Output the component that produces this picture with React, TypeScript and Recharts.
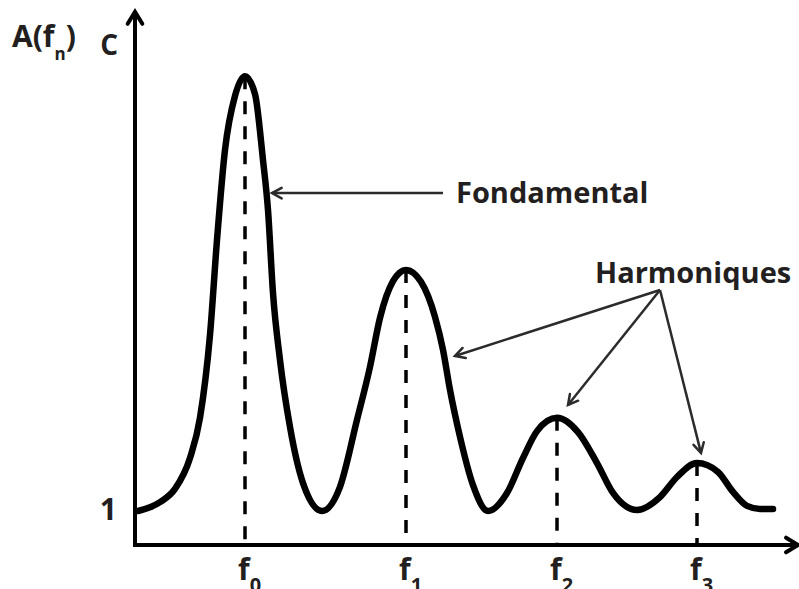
import React from 'react';
import { ComposedChart, Line, XAxis, YAxis, ReferenceLine, ReferenceDot } from 'recharts';

// Curve samples (frequency, amplitude)
const freq = [0.3, 2.5, 4.0, 5.5, 6.5, 7.5, 8.2, 9.0, 10.0, 11.0, 12.0, 12.8, 13.3, 13.8, 14.5, 15.5, 16.8, 18.7, 20.5, 22.2, 23.5, 24.5, 25.8, 27.1, 28.6, 30.0, 30.8, 31.5, 32.5, 33.8, 35.3, 37.2, 38.8, 40.2, 42.2, 44.3, 46.2, 47.8, 50.2, 52.5, 54.2, 56.2, 58.3, 59.8, 61.2, 62.5, 63.8];
const amp = [1.0, 1.26, 1.65, 2.56, 3.74, 6.18, 8.97, 11.62, 13.21, 13.79, 13.26, 11.32, 9.85, 7.41, 5.44, 3.47, 1.82, 1.0, 1.71, 3.68, 5.24, 6.68, 7.76, 8.09, 7.74, 6.71, 5.74, 4.56, 3.18, 1.76, 1.0, 1.53, 2.56, 3.35, 3.74, 3.32, 2.41, 1.53, 1.03, 1.41, 2.0, 2.41, 2.15, 1.56, 1.15, 1.06, 1.06];

// Peaks (fundamental + harmonics)
const peakFreqs = [11.0, 27.1, 42.2, 56.2];
const peakAmps = [13.79, 8.09, 3.74, 2.41];
const xTickSubs = ['0', '1', '2', '3'];

// Y ticks
const yTicks = [1, 14.68];
const yTickLabels = ['1', 'C'];

// Axis extents
const xMax = 66.3;
const yMax = 15.5;
const yArrowTop = 15.68;

// Annotations
const fondLabel = 'Fondamental';
const fondLabelPos = { x: 32.1, y: 10.06 };
const fondArrow = { from: { x: 30.8, y: 10.35 }, to: { x: 13.7, y: 10.35 } };

const harmLabel = 'Harmoniques';
const harmLabelPos = { x: 46.0, y: 7.71 };
const harmOrigin = { x: 52.5, y: 7.5 };
const harmTargets = [
  { x: 32.0, y: 5.56 },
  { x: 43.3, y: 4.12 },
  { x: 56.6, y: 2.71 },
];

const data = freq.map((f, i) => ({ f, a: amp[i] }));

const FONT = '"Open Sans", "DejaVu Sans", sans-serif';
const TEXT = '#231f20';

const arrowShape = (head: number, sw: number, color: string, spread = 0.5) => (props: any) => {
  const { x1, y1, x2, y2 } = props;
  if ([x1, y1, x2, y2].some((v) => v == null || isNaN(v))) return <g />;
  const ang = Math.atan2(y2 - y1, x2 - x1);
  const wa = ang + Math.PI - spread;
  const wb = ang + Math.PI + spread;
  const p1 = `${x2 + head * Math.cos(wa)},${y2 + head * Math.sin(wa)}`;
  const p2 = `${x2 + head * Math.cos(wb)},${y2 + head * Math.sin(wb)}`;
  return (
    <g>
      <line x1={x1} y1={y1} x2={x2} y2={y2} stroke={color} strokeWidth={sw} />
      <polyline
        points={`${p1} ${x2},${y2} ${p2}`}
        fill="none"
        stroke={color}
        strokeWidth={sw}
        strokeLinecap="round"
        strokeLinejoin="miter"
      />
    </g>
  );
};

const XTick = (props: any) => {
  const { x, y, payload } = props;
  const idx = peakFreqs.indexOf(payload.value);
  return (
    <text x={x - 7} y={y + 35} fontFamily={FONT} fontSize={30} fontWeight={700} fill={TEXT}>
      f
      <tspan fontSize={20} dy={12}>
        {xTickSubs[idx]}
      </tspan>
    </text>
  );
};

const YTick = (props: any) => {
  const { x, y, payload } = props;
  const idx = yTicks.indexOf(payload.value);
  const label = yTickLabels[idx];
  if (idx === 0) {
    return (
      <text x={x - 18} y={y + 9} textAnchor="end" fontFamily={FONT} fontSize={30} fontWeight={700} fill={TEXT}>
        {label}
      </text>
    );
  }
  return (
    <g>
      <text x={x - 17} y={y + 9} textAnchor="end" fontFamily={FONT} fontSize={28} fontWeight={700} fill={TEXT}>
        {label}
      </text>
      <text x={12} y={y + 1} fontFamily={FONT} fontSize={30} fontWeight={700} fill={TEXT}>
        A(f
        <tspan fontSize={17} dy={13}>
          n
        </tspan>
        <tspan dy={-13}>)</tspan>
      </text>
    </g>
  );
};

const textShape = (label: string) => (props: any) => {
  const { cx, cy } = props;
  return (
    <text x={cx} y={cy} fontFamily={FONT} fontSize={29} fontWeight={700} fill={TEXT}>
      {label}
    </text>
  );
};

export default function App() {
  return (
    <div style={{ position: 'absolute', left: 0, top: 0, width: 799, height: 589, background: '#fff' }}>
      <ComposedChart width={799} height={589} data={data} margin={{ top: 18, right: 1, bottom: 0, left: 0 }}>
        <XAxis
          type="number"
          dataKey="f"
          domain={[0, xMax]}
          allowDataOverflow
          ticks={peakFreqs}
          tick={<XTick />}
          axisLine={false}
          tickLine={false}
          tickSize={0}
          tickMargin={0}
          height={44}
          interval={0}
        />
        <YAxis
          type="number"
          domain={[0, yMax]}
          allowDataOverflow
          ticks={yTicks}
          tick={<YTick />}
          axisLine={false}
          tickLine={false}
          tickSize={0}
          tickMargin={0}
          width={135}
          interval={0}
        />
        {peakFreqs.map((f, i) => (
          <ReferenceLine
            key={`d${i}`}
            segment={[{ x: f, y: peakAmps[i] }, { x: f, y: 0 }]}
            stroke="#000"
            strokeWidth={3.5}
            strokeDasharray="13 12"
            ifOverflow="visible"
          />
        ))}
        <Line
          type="monotone"
          dataKey="a"
          stroke="#000"
          strokeWidth={6.5}
          dot={false}
          activeDot={false}
          strokeLinecap="round"
          isAnimationActive={false}
        />
        {/* axes with arrowheads */}
        <ReferenceLine
          segment={[{ x: -0.2, y: 0 }, { x: xMax, y: 0 }]}
          ifOverflow="visible"
          shape={arrowShape(14, 4, '#000', 0.55)}
        />
        <ReferenceLine
          segment={[{ x: 0, y: -0.06 }, { x: 0, y: yArrowTop }]}
          ifOverflow="visible"
          shape={arrowShape(14, 4, '#000', 0.55)}
        />
        {/* annotation arrows */}
        <ReferenceLine
          segment={[fondArrow.from, fondArrow.to]}
          ifOverflow="visible"
          shape={arrowShape(11, 2.5, '#2b2b2b', 0.5)}
        />
        {harmTargets.map((t, i) => (
          <ReferenceLine
            key={`h${i}`}
            segment={[harmOrigin, t]}
            ifOverflow="visible"
            shape={arrowShape(11, 2.5, '#2b2b2b', 0.5)}
          />
        ))}
        <ReferenceDot x={fondLabelPos.x} y={fondLabelPos.y} r={0} ifOverflow="visible" shape={textShape(fondLabel)} />
        <ReferenceDot x={harmLabelPos.x} y={harmLabelPos.y} r={0} ifOverflow="visible" shape={textShape(harmLabel)} />
      </ComposedChart>
    </div>
  );
}
